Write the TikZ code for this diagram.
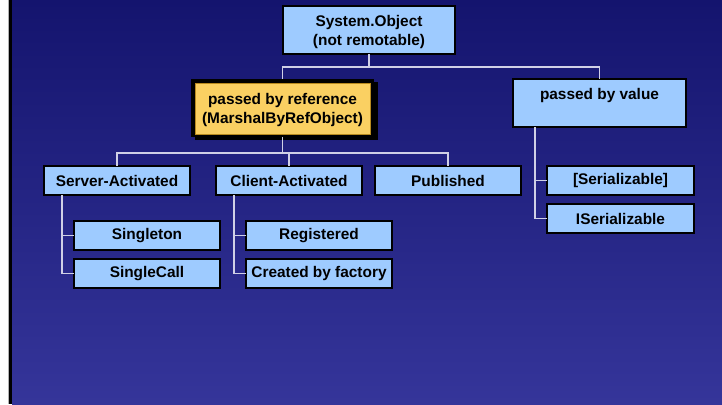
\documentclass[tikz,border=0pt]{standalone}
\usepackage{fontspec}
\setmainfont{Liberation Sans}
\definecolor{bgtop}{HTML}{14146E}
\definecolor{bgbot}{HTML}{35359A}
\definecolor{boxfill}{HTML}{9ECBFF}
\definecolor{yel}{HTML}{FAD062}
\definecolor{yelline}{HTML}{B88A1E}
\definecolor{connline}{HTML}{D0D0E6}
\tikzset{
  box/.style={draw=black, line width=1.2pt, fill=boxfill, inner sep=0pt, outer sep=0pt,
    align=center, font=\fontsize{15.4}{19}\selectfont\bfseries, text=black},
  twoline/.style={text depth=0pt},
  refbox/.style={box, fill=yel, draw=yelline, line width=1pt},
  frame/.style={fill=black, inner sep=0pt, outer sep=0pt},
  conn/.style={draw=connline, line width=1.2pt}
}
\begin{document}
\begin{tikzpicture}[x=1pt,y=-1pt]
\useasboundingbox (0,0) rectangle (722,404);
% background
\shade[top color=bgtop, bottom color=bgbot] (12,0) rectangle (722,404);
\fill[white] (0,0) rectangle (8,404);
\fill[gray!60] (8,0) rectangle (9,404);
\fill[black] (9,0) rectangle (12,404);

% nodes
\node[box, twoline, minimum width=172pt, minimum height=48pt] (sys) at (369,30) {System.Object\\(not remotable)};
\fill[black] (195,82) rectangle (378,140);
\node[frame, minimum width=183pt, minimum height=58pt] (reff) at (282.5,108) {};
\node[refbox, twoline, minimum width=175pt, minimum height=51pt] (ref) at (282.5,108.5) {passed by reference\\(MarshalByRefObject)};
\node[box, twoline, minimum width=173pt, minimum height=48pt] (byval) at (599.5,103) {passed by value\\\mbox{}};

\node[box, minimum width=146pt, minimum height=29pt] (sa) at (117,180.5) {Server-Activated};
\node[box, minimum width=146pt, minimum height=29pt] (ca) at (289,180.5) {Client-Activated};
\node[box, minimum width=146pt, minimum height=29pt] (pub) at (448,180.5) {Published};
\node[box, minimum width=147pt, minimum height=29pt] (ser) at (620.5,180.5) {[Serializable]};
\node[box, minimum width=147pt, minimum height=29pt] (iser) at (620.5,218.5) {ISerializable};

\node[box, minimum width=146pt, minimum height=29pt] (single) at (147,235.5) {Singleton};
\node[box, minimum width=146pt, minimum height=29pt] (scall) at (147,273.5) {SingleCall};
\node[box, minimum width=146pt, minimum height=29pt] (reg) at (319,235.5) {Registered};
\node[box, minimum width=146pt, minimum height=29pt] (fac) at (319,273.5) {Created by factory};

% connectors
\draw[conn] (sys.south) -- ++(0,13) coordinate (j1);
\draw[conn] (reff.north) |- (j1) -| (byval.north);
\draw[conn] (reff.south) -- ++(0,16) coordinate (j2);
\draw[conn] (sa.north) |- (j2) -| (pub.north);
\draw[conn] (ca.north) -- (ca.north |- j2);

\draw[conn] ([xshift=18pt]sa.south west) |- (scall.west);
\draw[conn] (single.west) -- ++(-12,0);
\draw[conn] ([xshift=18pt]ca.south west) |- (fac.west);
\draw[conn] (reg.west) -- ++(-12,0);
\draw[conn] ([xshift=22pt]byval.south west) |- (iser.west);
\draw[conn] (ser.west) -- ++(-12,0);
\end{tikzpicture}
\end{document}
